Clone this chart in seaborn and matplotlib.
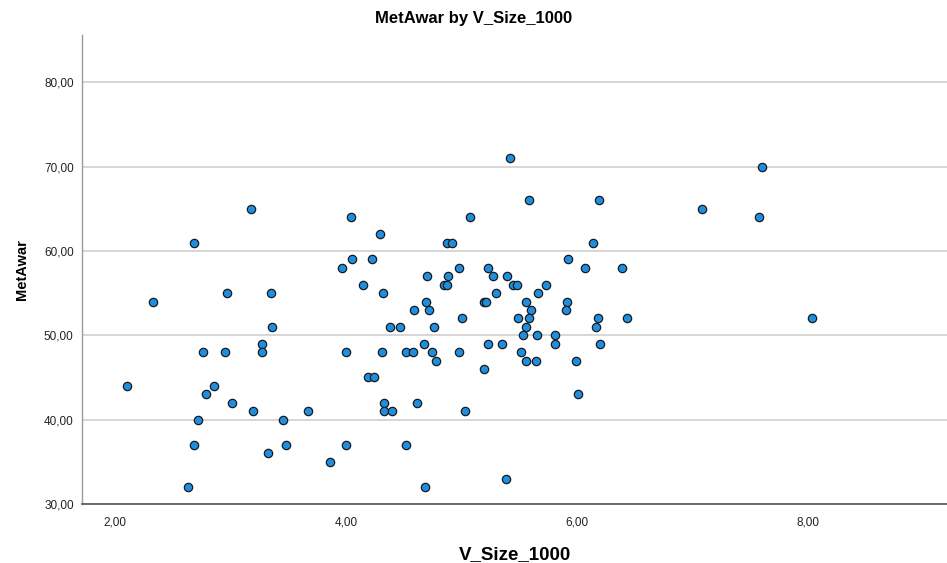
import matplotlib
matplotlib.use("Agg")
import matplotlib.pyplot as plt
import seaborn as sns
import pandas as pd
from matplotlib.ticker import FuncFormatter, FixedLocator

v_size = [3.18, 2.68, 2.33, 2.97, 3.35, 3.36,
          3.27, 2.76, 2.95, 3.27, 2.10, 2.86, 2.79, 3.01, 3.19, 3.67,
          2.72, 3.45, 2.68, 3.48, 3.32, 2.63,
          5.42, 5.58, 4.04, 5.07, 4.29, 4.87, 4.92, 3.96, 4.05, 4.22,
          4.98, 5.23, 4.15, 4.70, 4.88, 5.27, 5.39, 4.85, 4.87, 5.44,
          5.48, 5.73, 4.32, 5.30, 5.66, 4.69, 5.19, 5.21, 5.56, 4.59,
          4.72, 5.60, 5.00, 5.49, 5.58, 4.38, 4.47, 4.76, 5.56,
          5.53, 5.65, 4.67, 5.23, 5.35, 4.00, 4.31, 4.52, 4.58, 4.74,
          4.98, 5.51, 4.78, 5.56, 5.64, 5.19, 4.19, 4.24, 4.33, 4.61,
          4.33, 4.40, 5.03, 4.00, 4.52, 3.86, 5.38, 4.68,
          7.60, 6.19, 7.08, 7.57, 6.14, 5.92, 6.07, 6.39, 5.91, 5.90,
          6.18, 6.43, 6.16, 5.81, 5.81, 6.20, 5.99, 6.01, 8.03]
met_awar = [65, 61, 54, 55, 55, 51,
            49, 48, 48, 48, 44, 44, 43, 42, 41, 41,
            40, 40, 37, 37, 36, 32,
            71, 66, 64, 64, 62, 61, 61, 58, 59, 59,
            58, 58, 56, 57, 57, 57, 57, 56, 56, 56,
            56, 56, 55, 55, 55, 54, 54, 54, 54, 53,
            53, 53, 52, 52, 52, 51, 51, 51, 51,
            50, 50, 49, 49, 49, 48, 48, 48, 48, 48,
            48, 48, 47, 47, 47, 46, 45, 45, 42, 42,
            41, 41, 41, 37, 37, 35, 33, 32,
            70, 66, 65, 64, 61, 59, 58, 58, 54, 53,
            52, 52, 51, 50, 49, 49, 47, 43, 52]

x_ticks = [2, 4, 6, 8]
y_ticks = [30, 40, 50, 60, 70, 80]

df = pd.DataFrame({"V_Size_1000": v_size, "MetAwar": met_awar})

sns.set_style("white")
plt.rcParams["font.family"] = ["Liberation Sans", "DejaVu Sans"]
plt.rcParams["text.color"] = "black"
plt.rcParams["axes.labelcolor"] = "black"

fig = plt.figure(figsize=(9.47, 5.63), dpi=100)
ax = fig.add_axes([0.0866, 0.1048, 0.9134, 0.8330])

for yt in y_ticks:
    ax.axhline(yt, color="#d6d6d6", lw=1.4, zorder=0)

sns.scatterplot(data=df, x="V_Size_1000", y="MetAwar", ax=ax,
                color="#1e8fe0", edgecolor="#1a1a1a", linewidth=0.9,
                s=36, zorder=3)

ax.set_xlim(1.714, 9.20)
ax.set_ylim(30, 85.6)
ax.xaxis.set_major_locator(FixedLocator(x_ticks))
ax.yaxis.set_major_locator(FixedLocator(y_ticks))
fmt = FuncFormatter(lambda v, p: f"{v:.2f}".replace(".", ","))
ax.xaxis.set_major_formatter(fmt)
ax.yaxis.set_major_formatter(fmt)
ax.tick_params(axis="both", length=0, labelsize=8.5, colors="#222222")
ax.tick_params(axis="x", pad=9)
ax.tick_params(axis="y", pad=6)

for side in ["top", "right"]:
    ax.spines[side].set_visible(False)
ax.spines["left"].set_color("#9a9a9a")
ax.spines["left"].set_linewidth(1.0)
ax.spines["bottom"].set_color("#555555")
ax.spines["bottom"].set_linewidth(1.2)

ax.set_xlabel("V_Size_1000", fontsize=13.5, fontweight="bold", labelpad=13)
ax.set_ylabel("MetAwar", fontsize=10.5, fontweight="bold", labelpad=11)
fig.text(0.50, 0.968, "MetAwar by V_Size_1000", ha="center", va="center",
         fontsize=12, fontweight="bold")

fig.savefig("out.png", dpi=100)
